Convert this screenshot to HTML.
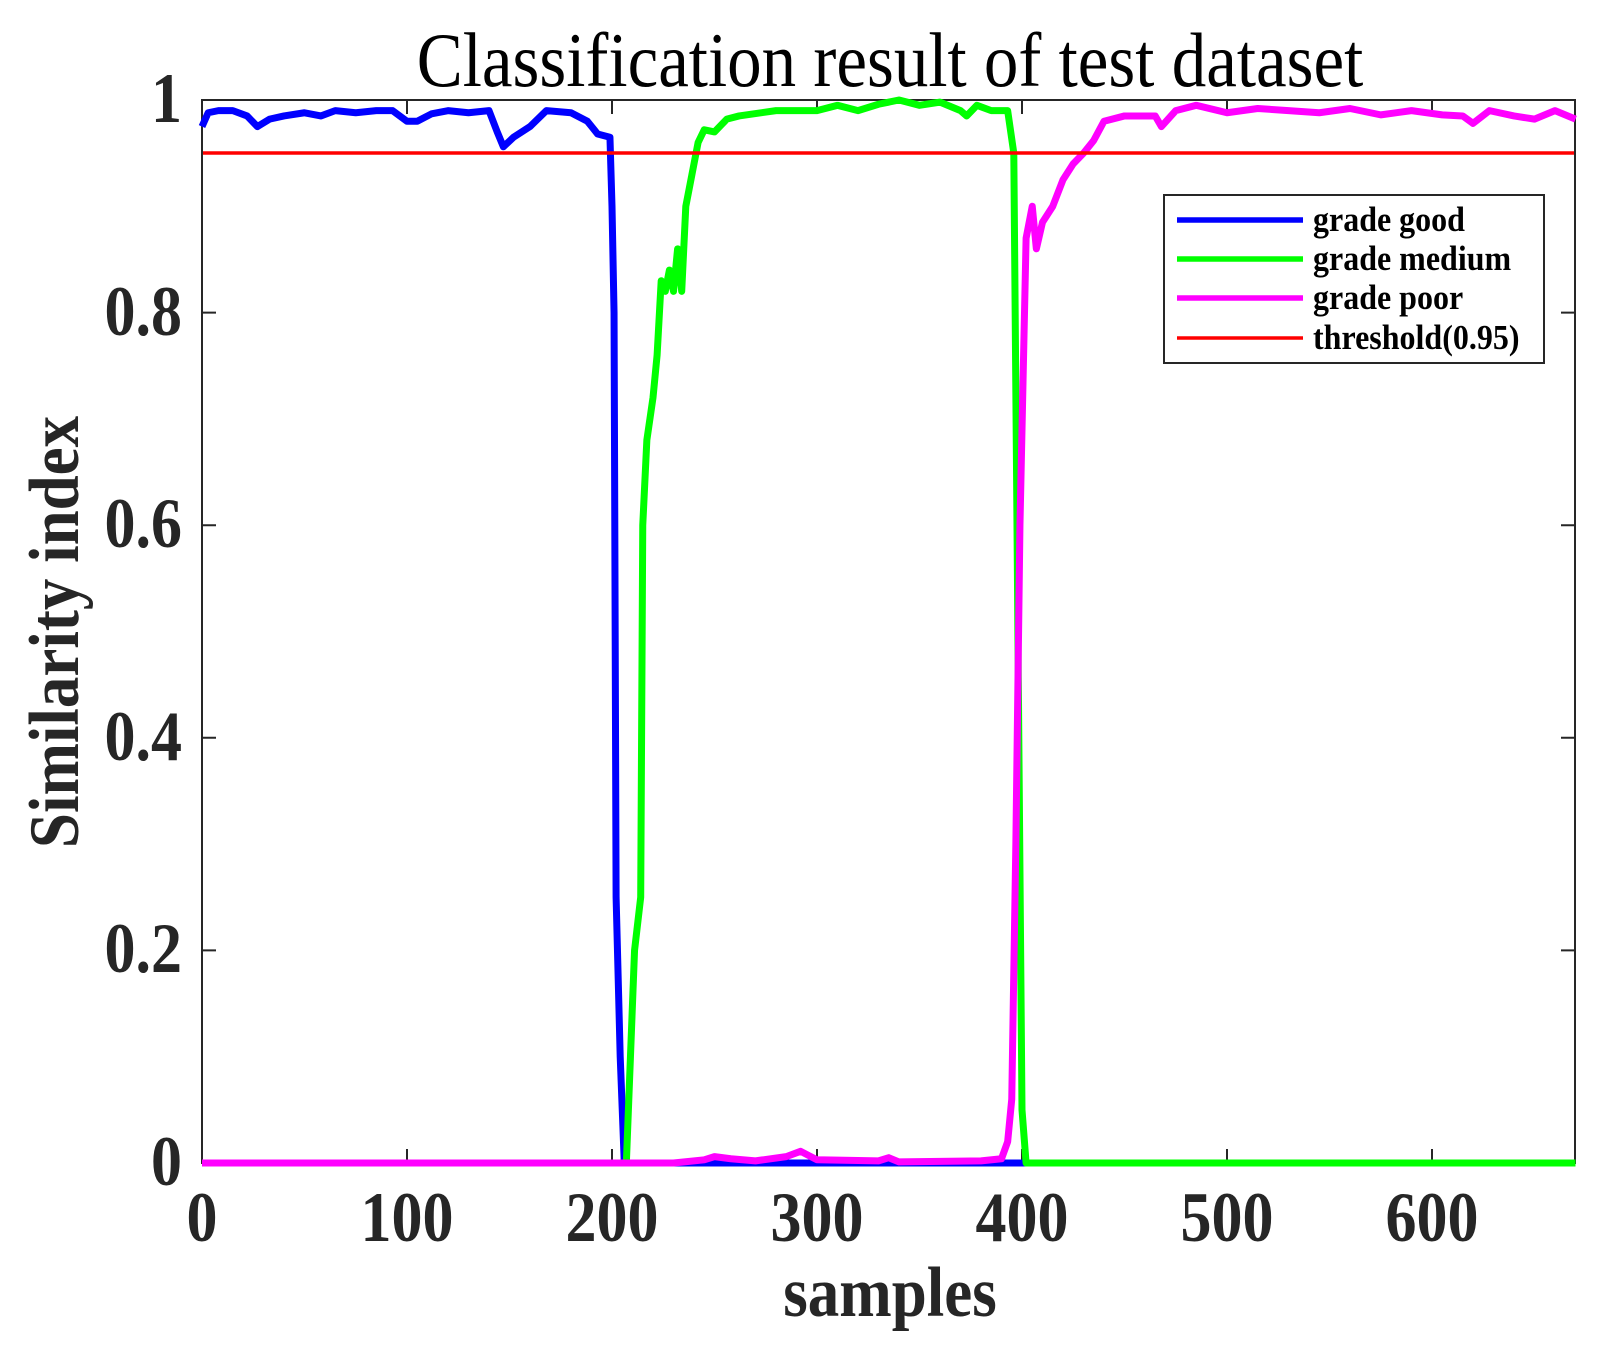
<!DOCTYPE html>
<html><head><meta charset="utf-8"><style>
body{margin:0;background:#fff;}
svg{display:block;}
text{font-family:"Liberation Serif",serif;fill:#262626;}
</style></head><body>
<svg width="1608" height="1349" viewBox="0 0 1608 1349" xmlns="http://www.w3.org/2000/svg">
<rect width="1608" height="1349" fill="#fff"/>
<text transform="translate(890,86) scale(1,1.12)" font-size="69" text-anchor="middle" style="fill:#000">Classification result of test dataset</text>
<g stroke="#262626" stroke-width="2" fill="none">
<rect x="202" y="100" width="1373" height="1063"/>
<path d="M202,1163v-14M407,1163v-14M612,1163v-14M817,1163v-14M1022,1163v-14M1227,1163v-14M1432,1163v-14
M202,100v14M407,100v14M612,100v14M817,100v14M1022,100v14M1227,100v14M1432,100v14
M202,950.4h14M202,737.8h14M202,525.2h14M202,312.6h14M1575,950.4h-14M1575,737.8h-14M1575,525.2h-14M1575,312.6h-14"/>
</g>
<g font-weight="bold" font-size="62" text-anchor="middle">
<text transform="translate(202,1241) scale(1,1.15)">0</text>
<text transform="translate(407,1241) scale(1,1.15)">100</text>
<text transform="translate(612,1241) scale(1,1.15)">200</text>
<text transform="translate(817,1241) scale(1,1.15)">300</text>
<text transform="translate(1022,1241) scale(1,1.15)">400</text>
<text transform="translate(1227,1241) scale(1,1.15)">500</text>
<text transform="translate(1432,1241) scale(1,1.15)">600</text>
</g>
<g font-weight="bold" font-size="62" text-anchor="end">
<text transform="translate(182,1185) scale(1,1.15)">0</text>
<text transform="translate(182,972) scale(1,1.15)">0.2</text>
<text transform="translate(182,760) scale(1,1.15)">0.4</text>
<text transform="translate(182,547) scale(1,1.15)">0.6</text>
<text transform="translate(182,335) scale(1,1.15)">0.8</text>
<text transform="translate(182,122) scale(1,1.15)">1</text>
</g>
<text transform="translate(890,1316) scale(1,1.12)" font-size="63" font-weight="bold" text-anchor="middle">samples</text>
<text transform="translate(78,632) rotate(-90) scale(1,1.12)" font-size="63" font-weight="bold" text-anchor="middle">Similarity index</text>
<g transform="translate(202,1163) scale(2.05,-1063)" fill="none" stroke-linejoin="round">
<polyline vector-effect="non-scaling-stroke" stroke="#0000ff" stroke-width="7" points="0,0.975 3,0.988 8,0.99 15,0.99 22,0.985 27,0.975 33,0.982 40,0.985 50,0.988 58,0.985 65,0.99 75,0.988 85,0.99 93,0.99 100,0.98 105,0.98 112,0.987 120,0.99 130,0.988 140,0.99 144,0.97 147,0.956 152,0.965 160,0.975 168,0.99 180,0.988 188,0.98 193,0.968 199,0.965 200,0.9 201,0.8 202,0.25 204,0.1 206,0 670,0"/>
<polyline vector-effect="non-scaling-stroke" stroke="#00ff00" stroke-width="7" points="0,0 207,0 209,0.1 211,0.2 214,0.25 215,0.6 217,0.68 220,0.72 222,0.76 224,0.83 226,0.82 228,0.84 230,0.82 232,0.86 234,0.82 236,0.9 239,0.93 242,0.96 245,0.972 250,0.97 256,0.982 262,0.985 280,0.99 300,0.99 310,0.995 320,0.99 330,0.996 340,1.0 350,0.995 360,0.998 370,0.99 373,0.985 378,0.995 385,0.99 393,0.99 396,0.95 398,0.5 400,0.05 402,0 670,0"/>
<polyline vector-effect="non-scaling-stroke" stroke="#ff00ff" stroke-width="7" points="0,0 230,0 245,0.003 250,0.006 258,0.004 270,0.002 285,0.006 292,0.011 300,0.003 330,0.002 335,0.005 340,0.001 380,0.002 390,0.004 393,0.02 395,0.06 397,0.3 399,0.6 402,0.87 405,0.9 407,0.86 410,0.885 415,0.9 420,0.925 425,0.94 430,0.95 435,0.962 440,0.98 450,0.985 465,0.985 468,0.975 475,0.99 485,0.995 500,0.988 515,0.992 530,0.99 545,0.988 560,0.992 575,0.986 590,0.99 605,0.986 615,0.985 620,0.978 628,0.99 640,0.985 650,0.982 660,0.99 670,0.982"/>
</g>
<line x1="203" y1="153" x2="1574" y2="153" stroke="#ff0000" stroke-width="3.5"/>
<rect x="1164" y="195" width="380" height="168" fill="#fff" stroke="#262626" stroke-width="2"/>
<g stroke-width="5.5">
<line x1="1177" y1="220" x2="1303" y2="220" stroke="#0000ff"/>
<line x1="1177" y1="259" x2="1303" y2="259" stroke="#00ff00"/>
<line x1="1177" y1="298" x2="1303" y2="298" stroke="#ff00ff"/>
<line x1="1177" y1="338" x2="1303" y2="338" stroke="#ff0000" stroke-width="3.5"/>
</g>
<g font-size="32" font-weight="bold">
<text transform="translate(1313,231) scale(1,1.08)" style="fill:#000">grade good</text>
<text transform="translate(1313,270) scale(1,1.08)" style="fill:#000">grade medium</text>
<text transform="translate(1313,309) scale(1,1.08)" style="fill:#000">grade poor</text>
<text transform="translate(1313,349) scale(1,1.08)" style="fill:#000">threshold(0.95)</text>
</g>
</svg>
</body></html>
